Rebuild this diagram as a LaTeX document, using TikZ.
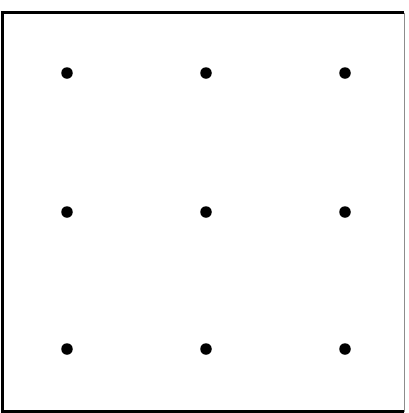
\documentclass[tikz,border=0pt]{standalone}
\begin{document}
\begin{tikzpicture}[x=1pt,y=-1pt,
  dotmark/.style={circle,fill=black,inner sep=0pt,minimum size=11.5pt},
  frame/.style={line width=3pt,black}]
\useasboundingbox (0,0) rectangle (408,413);
\fill[white] (0,0) rectangle (408,413);
\coordinate (tl) at (2.5,12.5);
\coordinate (tr) at (404,12.5);
\coordinate (bl) at (2.5,411.5);
\coordinate (br) at (404,411.5);
\draw[frame] (br) -- (bl) -- (tl) -- (tr);
\draw[line width=1pt,black!45] (tr) -- (br);
\foreach \i/\x in {1/67,2/206,3/345}{
  \foreach \j/\y in {1/73,2/212,3/349}{
    \node[dotmark] (d\i\j) at (\x,\y) {};
  }
}
\end{tikzpicture}
\end{document}
